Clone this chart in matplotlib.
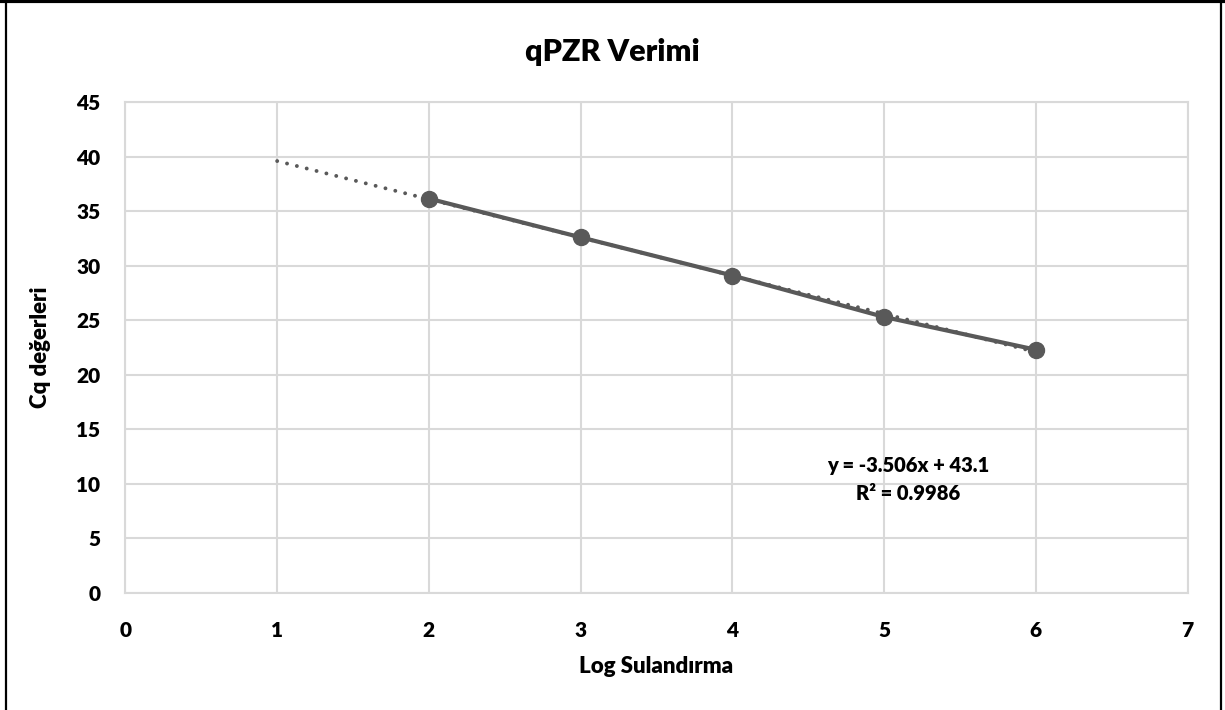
import matplotlib
matplotlib.use("Agg")
import matplotlib.pyplot as plt
from matplotlib.lines import Line2D
import numpy as np

plt.rcParams['font.family'] = ['Lato', 'DejaVu Sans']
W = 'heavy'
plt.rcParams['font.weight'] = W

title = "qPZR Verimi"
x_label = "Log Sulandırma"
y_label = "Cq değerleri"
log_dilution = [2, 3, 4, 5, 6]
cq_values = [36.15, 32.6, 29.1, 25.3, 22.3]
trend_x_range = [1, 6]
equation_text = "y = -3.506x + 43.1\nR² = 0.9986"

fig = plt.figure(figsize=(12.25, 7.1), dpi=100)
ax = fig.add_axes([0.1024, 0.1648, 0.8670, 0.6915])

gray = "#595959"
grid_c = "#d9d9d9"

slope, intercept = np.polyfit(log_dilution, cq_values, 1)
tx = np.array(trend_x_range, dtype=float)
ax.plot(tx, slope * tx + intercept, linestyle=(0, (0.01, 2.6)), color=gray, lw=2.8,
        dash_capstyle='round', zorder=3)
ax.plot(log_dilution, cq_values, color=gray, lw=3.0, marker='o', markersize=11.5,
        zorder=4)

ax.set_xlim(0, 7)
ax.set_ylim(0, 45)
ax.set_xticks(range(0, 8))
ax.set_yticks(range(0, 46, 5))
ax.grid(True, color=grid_c, lw=1.5)
ax.set_axisbelow(True)
for s in ax.spines.values():
    s.set_color(grid_c)
    s.set_linewidth(1.5)
ax.tick_params(length=0, labelsize=15)
ax.tick_params(axis='x', pad=20)
ax.tick_params(axis='y', pad=18)
for lab in ax.get_xticklabels() + ax.get_yticklabels():
    lab.set_fontweight(W)

ax.set_xlabel(x_label, fontsize=16, fontweight=W, labelpad=12)
ax.set_ylabel(y_label, fontsize=16, fontweight=W, labelpad=18)
fig.text(0.5, 0.927, title, ha='center', va='center', fontsize=22, fontweight=W)

ax.text(5.16, 10.4, equation_text, ha='center', va='center', fontsize=14.5,
        fontweight=W, linespacing=1.6)

# outer chart frame (cropped at bottom)
fig.add_artist(Line2D([0, 1], [0.998, 0.998], color='black', lw=3, transform=fig.transFigure))
fig.add_artist(Line2D([0.0045, 0.0045], [0, 1], color='black', lw=1.6, transform=fig.transFigure))
fig.add_artist(Line2D([0.9965, 0.9965], [0, 1], color='black', lw=1.6, transform=fig.transFigure))

fig.savefig("out.png", dpi=100)
